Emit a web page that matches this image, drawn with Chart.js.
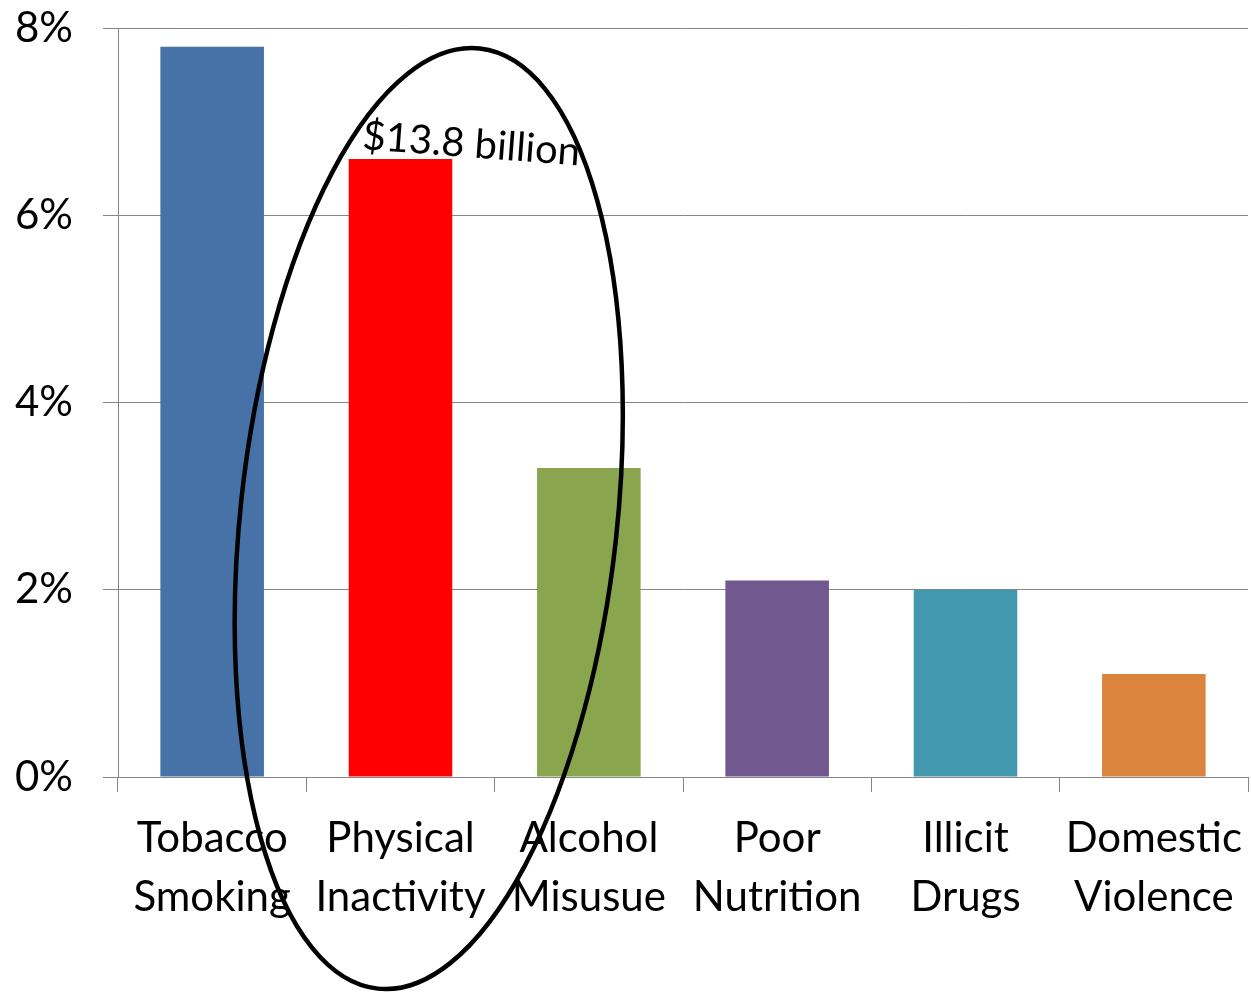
<!DOCTYPE html>
<html>
<head>
<meta charset="utf-8">
<script src="https://cdn.jsdelivr.net/npm/chart.js@4.4.1/dist/chart.umd.min.js"></script>
<style>
  html, body { margin: 0; padding: 0; background: #ffffff; }
  #wrap { width: 1251px; height: 993px; }
</style>
</head>
<body>
<div id="wrap"><canvas id="riskChart" width="1251" height="993"></canvas></div>
<script>
// Kategorien und Werte (Anteil in %)
const categories = [
    ["Tobacco", "Smoking"],
    ["Physical", "Inactivity"],
    ["Alcohol", "Misusue"],
    ["Poor", "Nutrition"],
    ["Illicit", "Drugs"],
    ["Domestic", "Violence"]
];
const shares = [7.8, 6.6, 3.3, 2.1, 2.0, 1.1];
const barColors = ["#4672A7", "#FF0000", "#89A54E", "#71588F", "#4198AF", "#DB843D"];
const yTicks = [0, 2, 4, 6, 8];

// Hervorhebung: Beschriftung am zweiten Balken und Ellipse (in Datenkoordinaten)
const calloutIndex = 1;
const calloutText = "$13.8 billion";
const ellipseCenter = { index: 1.15, value: 2.76 };
const ellipseRadius = { index: 1.0, value: 5.05 };
const ellipseTilt = 6.2; // Grad

const FONT = "Lato, 'Open Sans', sans-serif";

// Zeichnet Ellipse und Text über das fertige Diagramm
const calloutPlugin = {
    id: "callout",
    afterDraw(chart) {
        const ctx = chart.ctx;
        const xs = chart.scales.x;
        const ys = chart.scales.y;
        const bar = chart.getDatasetMeta(0).data[calloutIndex];

        // Text leicht gedreht über dem Balken
        ctx.save();
        ctx.translate(bar.x - bar.width / 2 + 13, bar.y - 10);
        ctx.rotate(4.3 * Math.PI / 180);
        ctx.font = "40px " + FONT;
        ctx.fillStyle = "#000000";
        ctx.textAlign = "left";
        ctx.textBaseline = "alphabetic";
        ctx.fillText(calloutText, 0, 0);
        ctx.restore();

        // Ellipse
        const step = xs.getPixelForValue(1) - xs.getPixelForValue(0);
        const cx = xs.getPixelForValue(0) + ellipseCenter.index * step;
        const cy = ys.getPixelForValue(ellipseCenter.value);
        const rx = ellipseRadius.index * step;
        const ry = ys.getPixelForValue(0) - ys.getPixelForValue(ellipseRadius.value);
        ctx.save();
        ctx.beginPath();
        ctx.ellipse(cx, cy, rx, ry, ellipseTilt * Math.PI / 180, 0, Math.PI * 2);
        ctx.lineWidth = 4.5;
        ctx.strokeStyle = "#000000";
        ctx.stroke();
        ctx.restore();
    }
};

new Chart(document.getElementById("riskChart").getContext("2d"), {
    type: "bar",
    data: {
        labels: categories,
        datasets: [{
            data: shares,
            backgroundColor: barColors,
            borderWidth: 0,
            barPercentage: 0.55,
            categoryPercentage: 1.0
        }]
    },
    options: {
        responsive: false,
        animation: false,
        devicePixelRatio: 1,
        layout: { padding: { top: 28, right: 3, left: 0, bottom: 0 } },
        plugins: {
            legend: { display: false },
            tooltip: { enabled: false }
        },
        scales: {
            x: {
                grid: {
                    drawOnChartArea: false,
                    color: "#868686",
                    tickLength: 15
                },
                border: { color: "#868686", width: 1 },
                ticks: {
                    color: "#000000",
                    font: { size: 42, family: FONT, lineHeight: 1.4 },
                    padding: 17,
                    maxRotation: 0,
                    autoSkip: false
                },
                afterFit(scale) {
                    scale.height = 216;
                    scale.paddingLeft = 0;
                    scale.paddingRight = 0;
                }
            },
            y: {
                min: 0,
                max: 8,
                afterBuildTicks(scale) {
                    scale.ticks = yTicks.map(v => ({ value: v }));
                },
                grid: {
                    color: "#868686",
                    tickLength: 15
                },
                border: { color: "#868686", width: 1 },
                ticks: {
                    color: "#000000",
                    font: { size: 42, family: FONT },
                    padding: 30,
                    callback: v => v + "%"
                },
                afterFit(scale) {
                    scale.width = 118;
                    scale.paddingTop = 0;
                    scale.paddingBottom = 0;
                }
            }
        }
    },
    plugins: [calloutPlugin]
});
</script>
</body>
</html>
